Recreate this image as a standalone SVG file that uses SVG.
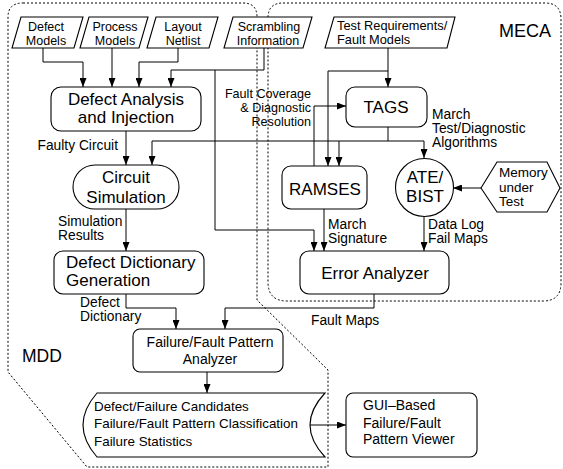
<svg xmlns="http://www.w3.org/2000/svg" width="563" height="469" viewBox="0 0 563 469">
<style>
text{font-family:"Liberation Sans",Arial,sans-serif;fill:#000}
.box{fill:#fff;stroke:#000;stroke-width:1.1}
.big{font-size:17px;text-anchor:middle}
.in{font-size:12.5px;text-anchor:middle}
.lbl{font-size:13.8px}
.ln{fill:none;stroke:#000;stroke-width:1}
.arr{fill:none;stroke:#000;stroke-width:1;marker-end:url(#ah)}
.bd{fill:none;stroke:#000;stroke-width:1;stroke-dasharray:2,2}
.res{font-size:13.4px}
.gui{font-size:14px}
</style>
<defs>
<marker id="ah" markerUnits="userSpaceOnUse" markerWidth="9" markerHeight="7" refX="9" refY="3.5" orient="auto">
<path d="M0,0 L9,3.5 L0,7 z" fill="#000"/>
</marker>
</defs>
<rect width="563" height="469" fill="#fff"/>

<g id="boundaries">
<path class="bd" d="M23,3 L243,3 Q257,3 257,17 L257,300 L328,370 L328,467 L87,467 L8,372 L8,17 Q8,3 23,3 Z"/>
<path class="bd" d="M283,3 L545,3 Q561,3 561,19 L561,283 Q561,301 543,301 L287,301 Q268,301 268,282 L268,18 Q268,3 283,3 Z"/>
<text x="499" y="37" style="font-size:18px">MECA</text>
<text x="22" y="362" style="font-size:17.5px">MDD</text>
</g>

<g id="connectors">
<path class="arr" d="M43,48 V62 H83 V87"/>
<path class="arr" d="M112,48 V87"/>
<path class="arr" d="M178,48 V62 H139 V87"/>
<path class="arr" d="M264,48 V70 H171 V87"/>
<path class="arr" d="M215,70 V230 H314 V251"/>
<path class="arr" d="M388,48 V87"/>
<path class="arr" d="M388,71 H328 V166"/>
<path class="ln" d="M388,127 V141 M152,141 H424"/>
<path class="arr" d="M152,141 V165"/>
<path class="arr" d="M339,141 V166"/>
<path class="arr" d="M424,141 V158"/>
<path class="arr" d="M314,166 V106 H346"/>
<path class="arr" d="M126,131 V165"/>
<path class="arr" d="M126,209 V251"/>
<path class="arr" d="M126,294 V308 H176 V329"/>
<path class="arr" d="M374,294 V308 H225 V329"/>
<path class="arr" d="M324,209 V251"/>
<path class="arr" d="M424,217 V251"/>
<path class="arr" d="M481,188 H453"/>
<path class="arr" d="M207,372 V393"/>
<path class="arr" d="M310,425 H346"/>
<text class="lbl" x="118" y="150" text-anchor="end">Faulty Circuit</text>
<text class="lbl" x="58" y="226">Simulation</text>
<text class="lbl" x="58" y="240">Results</text>
<text class="lbl" x="80" y="307">Defect</text>
<text class="lbl" x="80" y="321">Dictionary</text>
<text class="lbl" x="311" y="325">Fault Maps</text>
<text class="lbl" x="328" y="229">March</text>
<text class="lbl" x="328" y="243">Signature</text>
<text class="lbl" x="428" y="229">Data Log</text>
<text class="lbl" x="428" y="243">Fail Maps</text>
<text class="lbl" x="432" y="119">March</text>
<text class="lbl" x="432" y="133">Test/Diagnostic</text>
<text class="lbl" x="432" y="147">Algorithms</text>
<text x="311" y="98" text-anchor="end" style="font-size:12.6px">Fault Coverage</text>
<text x="311" y="112" text-anchor="end" style="font-size:12.6px">&amp; Diagnostic</text>
<text x="311" y="126" text-anchor="end" style="font-size:12.6px">Resolution</text>
</g>

<g id="defect-models">
<polygon class="box" points="21,17 83,17 74,48 12,48"/>
<text class="in" x="46" y="31">Defect</text>
<text class="in" x="46" y="45">Models</text>
</g>
<g id="process-models">
<polygon class="box" points="89,17 148,17 139,48 80,48"/>
<text class="in" x="115" y="31">Process</text>
<text class="in" x="115" y="45">Models</text>
</g>
<g id="layout-netlist">
<polygon class="box" points="156,17 218,17 209,48 147,48"/>
<text class="in" x="183" y="31">Layout</text>
<text class="in" x="183" y="45">Netlist</text>
</g>
<g id="scrambling">
<polygon class="box" points="233,17 312,17 303,48 224,48"/>
<text class="in" x="269" y="31">Scrambling</text>
<text class="in" x="268" y="45">Information</text>
</g>
<g id="test-requirements">
<polygon class="box" points="334,17 455,17 447,48 325,48"/>
<text x="337" y="30" style="font-size:12.8px">Test Requirements/</text>
<text x="337" y="44" style="font-size:12.8px">Fault Models</text>
</g>

<g id="defect-analysis">
<rect class="box" x="51" y="87" width="150" height="44" rx="10"/>
<text class="big" x="126" y="105">Defect Analysis</text>
<text class="big" x="126" y="123">and Injection</text>
</g>
<g id="circuit-simulation">
<rect class="box" x="73" y="165" width="106" height="44" rx="22"/>
<text class="big" x="126" y="183">Circuit</text>
<text class="big" x="126" y="203">Simulation</text>
</g>
<g id="defect-dictionary">
<rect class="box" x="54" y="251" width="150" height="43" rx="9"/>
<text x="66" y="268" style="font-size:17px">Defect Dictionary</text>
<text x="66" y="286" style="font-size:17px">Generation</text>
</g>
<g id="tags">
<rect class="box" x="346" y="87" width="81" height="40" rx="9"/>
<text class="big" x="386" y="113">TAGS</text>
</g>
<g id="ramses">
<rect class="box" x="282" y="166" width="85" height="43" rx="9"/>
<text class="big" x="325" y="195">RAMSES</text>
</g>
<g id="ate-bist">
<circle class="box" cx="424.5" cy="187.5" r="29"/>
<text class="big" x="425" y="183">ATE/</text>
<text class="big" x="425" y="202">BIST</text>
</g>
<g id="memory">
<polygon class="box" points="481,188 497,162 547,162 560,188 547,212 497,212"/>
<text x="499" y="177" style="font-size:13.5px">Memory</text>
<text x="499" y="192" style="font-size:13.5px">under</text>
<text x="499" y="206" style="font-size:13.5px">Test</text>
</g>
<g id="error-analyzer">
<rect class="box" x="300" y="251" width="149" height="43" rx="9"/>
<text class="big" x="375" y="279">Error Analyzer</text>
</g>
<g id="ffpa">
<rect class="box" x="133" y="329" width="150" height="43" rx="7"/>
<text x="210" y="347" text-anchor="middle" style="font-size:14px">Failure/Fault Pattern</text>
<text x="210" y="364" text-anchor="middle" style="font-size:14px">Analyzer</text>
</g>
<g id="results">
<path class="box" d="M97,393 L325,393 Q295,425 325,457 L97,457 Q69,425 97,393 Z"/>
<text class="res" x="94" y="411">Defect/Failure Candidates</text>
<text class="res" x="94" y="428">Failure/Fault Pattern Classification</text>
<text class="res" x="94" y="446">Failure Statistics</text>
</g>
<g id="gui">
<rect class="box" x="346" y="393" width="131" height="64" rx="7"/>
<text class="gui" x="363" y="410">GUI–Based</text>
<text class="gui" x="363" y="428">Failure/Fault</text>
<text class="gui" x="363" y="444">Pattern Viewer</text>
</g>
</svg>
